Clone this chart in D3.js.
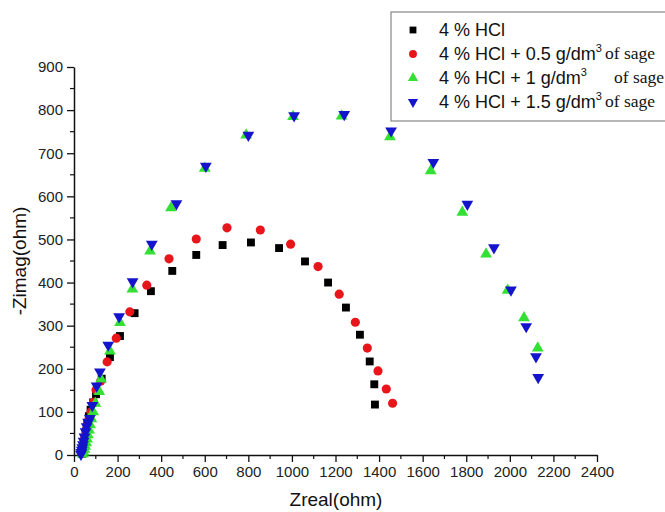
<!DOCTYPE html>
<html><head><meta charset="utf-8">
<script src="https://cdn.jsdelivr.net/npm/d3@7"></script>
<style>body{margin:0;background:#fff}svg{display:block}</style>
</head><body><div id="chart"></div>
<script>
const seriesNames = ["4 % HCl", "4 % HCl + 0.5 g/dm", "4 % HCl + 1 g/dm", "4 % HCl + 1.5 g/dm"];
const xTicks = [0,200,400,600,800,1000,1200,1400,1600,1800,2000,2200,2400];
const yTicks = [0,100,200,300,400,500,600,700,800,900];

const hclX = [38,40,43,46,50,55,61,68,76,88,101,127,165,211,278,353,451,561,682,812,941,1060,1166,1248,1312,1357,1378,1381];
const hclY = [3,10,18,28,40,55,72,90,105,122,141,177,227,276,329,380,427,464,487,493,480,449,400,342,279,217,164,117];

const sage05X = [36,39,42,46,50,55,61,68,78,90,101,122,152,194,256,334,436,561,702,855,994,1120,1217,1291,1346,1395,1433,1462];
const sage05Y = [4,11,19,29,40,52,66,82,100,122,151,171,216,271,332,394,455,501,527,522,489,437,373,308,248,195,153,120];

const sage1X = [40,44,48,52,56,60,64,69,74,80,88,98,116,124,165,211,268,349,445,600,790,1005,1228,1450,1637,1782,1891,1990,2065,2128];
const sage1Y = [2,7,13,20,28,37,47,58,70,84,100,120,147,176,241,307,385,473,573,665,742,785,786,738,659,563,466,382,318,248];

const sage15X = [32,34,36,38,41,44,48,53,58,65,73,84,104,119,157,207,269,357,470,605,800,1010,1240,1455,1649,1805,1927,2005,2075,2120,2130];
const sage15Y = [2,6,11,17,24,32,42,54,66,76,85,115,160,193,255,321,402,489,583,670,742,787,790,752,679,582,481,383,298,228,180];

const W = 665, H = 512;
const svg = d3.select("#chart").append("svg").attr("width", W).attr("height", H);

const x = d3.scaleLinear().domain([0, 2400]).range([74, 597]);
const y = d3.scaleLinear().domain([0, 900]).range([455, 67]);

const sans = "Liberation Sans, Arial, sans-serif";
const serif = "Liberation Serif, Times New Roman, serif";

// axes
const fmt = d3.format("d");
const xAxis = d3.axisBottom(x).tickValues(xTicks).tickFormat(fmt).tickSize(7).tickPadding(4).tickSizeOuter(0);
const yAxis = d3.axisLeft(y).tickValues(yTicks).tickFormat(fmt).tickSize(7).tickPadding(4).tickSizeOuter(0);
const gx = svg.append("g").attr("transform", "translate(0,455)").call(xAxis);
const gy = svg.append("g").attr("transform", "translate(74,0)").call(yAxis);
[gx, gy].forEach(g => {
  g.select(".domain").attr("stroke", "#111").attr("stroke-width", 1.5);
  g.selectAll(".tick line").attr("stroke", "#111").attr("stroke-width", 1.3);
  g.selectAll(".tick text").attr("font-family", sans).attr("font-size", 15).attr("fill", "#222");
});
// minor ticks
const xMinor = d3.range(100, 2400, 200);
const yMinor = d3.range(50, 900, 100);
svg.append("g").selectAll("line").data(xMinor).join("line")
  .attr("x1", d => x(d)).attr("x2", d => x(d)).attr("y1", 455).attr("y2", 459)
  .attr("stroke", "#111").attr("stroke-width", 1.2);
svg.append("g").selectAll("line").data(yMinor).join("line")
  .attr("y1", d => y(d)).attr("y2", d => y(d)).attr("x1", 74).attr("x2", 70)
  .attr("stroke", "#111").attr("stroke-width", 1.2);

// axis titles
svg.append("text").attr("x", 336).attr("y", 506).attr("text-anchor", "middle")
  .attr("font-family", sans).attr("font-size", 19).attr("fill", "#111").text("Zreal(ohm)");
svg.append("text").attr("transform", "translate(26,261) rotate(-90)").attr("text-anchor", "middle")
  .attr("font-family", sans).attr("font-size", 19).attr("fill", "#111").text("-Zimag(ohm)");

// data
const series = [
  {xs: hclX, ys: hclY, color: "#000000", sym: d3.symbolSquare, size: 62, rot: 0},
  {xs: sage05X, ys: sage05Y, color: "#e8161b", sym: d3.symbolCircle, size: 66, rot: 0},
  {xs: sage1X, ys: sage1Y, color: "#33e033", sym: d3.symbolTriangle, size: 60, rot: 0},
  {xs: sage15X, ys: sage15Y, color: "#1414cc", sym: d3.symbolTriangle, size: 60, rot: 180}
];
series.forEach(s => {
  const pts = s.xs.map((v, i) => [v, s.ys[i]]);
  svg.append("g").selectAll("path").data(pts).join("path")
    .attr("d", d3.symbol().type(s.sym).size(s.size))
    .attr("transform", d => `translate(${x(d[0])},${y(d[1])}) rotate(${s.rot})`)
    .attr("fill", s.color);
});

// legend
const lg = svg.append("g");
lg.append("rect").attr("x", 391).attr("y", 12).attr("width", 290).attr("height", 109)
  .attr("fill", "#fff").attr("stroke", "#888").attr("stroke-width", 1.2);
const rowY = [30, 54, 78, 102];
const ofX = [null, 605, 614, 605];
// size legend text so the row-2 label spans the same width as in the picture
const probe = lg.append("text").attr("font-family", sans).attr("font-size", 18).text(seriesNames[1]);
const w18 = probe.node().getComputedTextLength();
probe.remove();
const legFs = Math.max(16, Math.min(21, 18 * 157 / w18));
series.forEach((s, i) => {
  lg.append("path").attr("d", d3.symbol().type(s.sym).size(s.size * 0.75))
    .attr("transform", `translate(413,${rowY[i]}) rotate(${s.rot})`).attr("fill", s.color);
  const t = lg.append("text").attr("x", 439).attr("y", rowY[i] + 6)
    .attr("font-family", sans).attr("font-size", legFs).attr("fill", "#111");
  t.append("tspan").text(seriesNames[i]);
  if (i > 0) {
    t.append("tspan").attr("font-size", 11).attr("dy", -8).text("3");
    lg.append("text").attr("x", ofX[i]).attr("y", rowY[i] + 5)
      .attr("font-family", serif).attr("font-size", 17.5).attr("fill", "#111").text("of sage");
  }
});
</script></body></html>
